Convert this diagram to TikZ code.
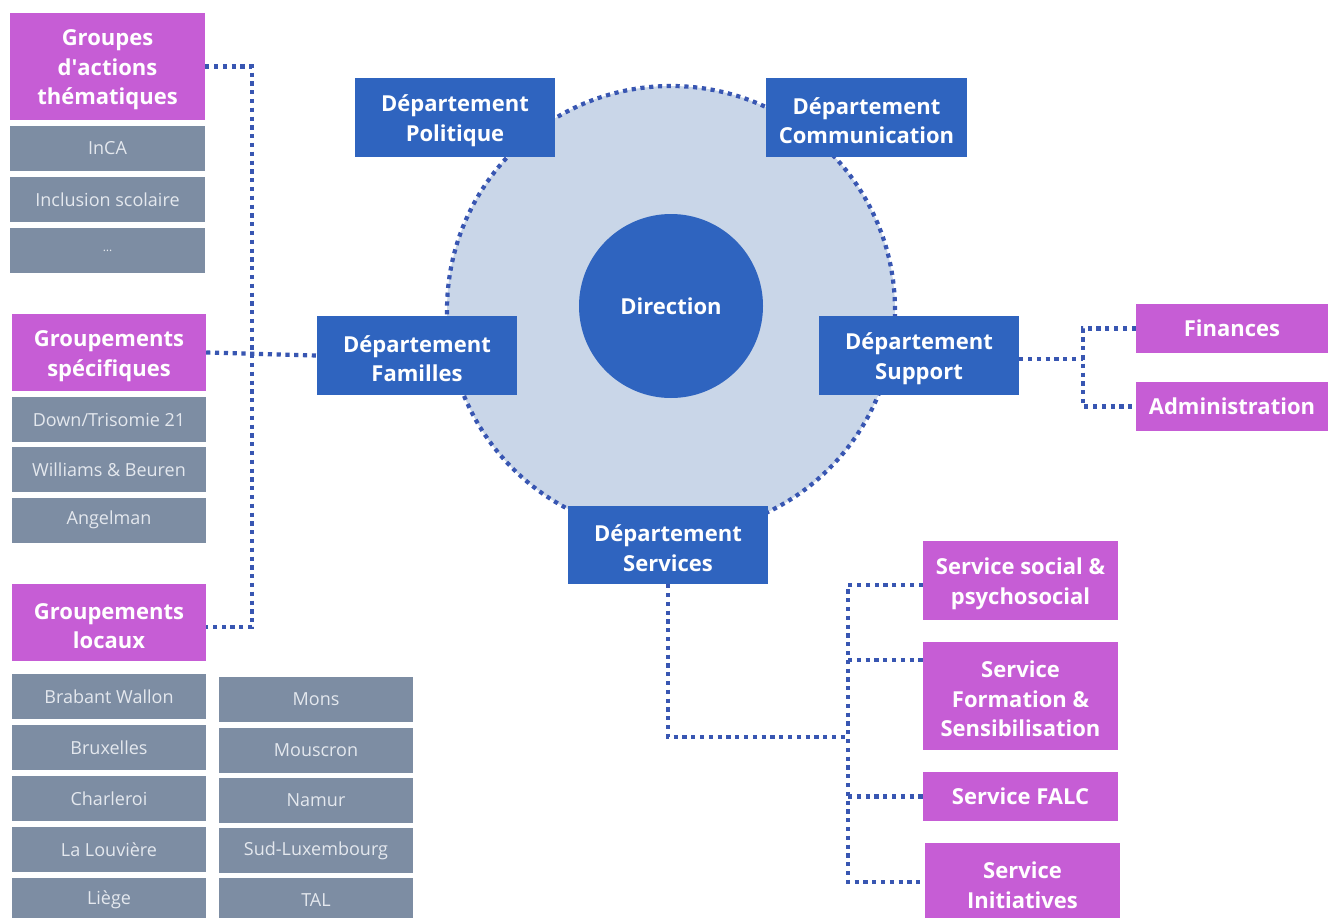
\documentclass[tikz,border=0pt]{standalone}
\usepackage{fontspec}
\setmainfont{Open Sans}
\definecolor{deptblue}{HTML}{2F64BF}
\definecolor{pinkbox}{HTML}{C65DD5}
\definecolor{greybox}{HTML}{7D8DA3}
\definecolor{circfill}{HTML}{C9D6E8}
\definecolor{dotblue}{HTML}{3856B2}
\definecolor{greytext}{HTML}{E4E8EE}
\newcommand{\mystrut}{\rule{0pt}{23pt}}
\begin{document}
\begin{tikzpicture}[x=1pt,y=-1pt,
  box/.style={rectangle, inner sep=0pt, align=center, text=white},
  bigtext/.style={font=\bfseries\fontsize{22}{29.5}\selectfont},
  dept/.style={box, bigtext, fill=deptblue, minimum width=200pt, minimum height=79pt},
  pinkb/.style={box, bigtext, fill=pinkbox, minimum width=195pt},
  greyb/.style={box, fill=greybox, text=greytext, minimum width=195pt, minimum height=45pt, font=\fontsize{18}{20}\selectfont},
  dotline/.style={draw=dotblue, line width=4.2pt, dash pattern=on 4.2pt off 4.6pt},
]
\useasboundingbox[fill=white] (0,0) rectangle (1328,918);

% central circle
\draw[dotline, fill=circfill] (671,310) circle (224pt);
\node[circle, fill=deptblue, minimum size=184pt, inner sep=0pt, text=white, bigtext] (dir) at (671,306) {Direction};

% departments
\node[dept] (pol) at (455,117.5) {\mystrut Département\\Politique};
\node[dept, minimum width=201pt] (com) at (866.5,117.5) {\mystrut Département\\Communication};
\node[dept] (fam) at (417,355.5) {\mystrut Département\\Familles};
\node[dept] (sup) at (919,355.5) {\mystrut Département\\Support};
\node[dept, minimum height=78pt] (ser) at (668,545) {\mystrut Département\\Services};

% left column
\node[pinkb, minimum height=107pt] (gat) at (107.5,66.5) {\mystrut Groupes\\d\textquotesingle actions\\thématiques};
\node[greyb] (inca) at (107.5,148.5) {InCA};
\node[greyb] (incl) at (107.5,199.5) {Inclusion scolaire};
\node[greyb] (etc) at (107.5,250.5) {\fontsize{12}{14}\selectfont\ldots};

\node[pinkb, minimum width=194pt, minimum height=77pt] (gsp) at (109,352.5) {\mystrut Groupements\\spécifiques};
\node[greyb, minimum width=194pt] (down) at (109,419.5) {Down/Trisomie 21};
\node[greyb, minimum width=194pt] (will) at (109,469.5) {Williams \& Beuren};
\node[greyb, minimum width=194pt] (ang) at (109,520) {Angelman};

\node[pinkb, minimum width=194pt, minimum height=77pt] (gloc) at (109,622.5) {\mystrut Groupements\\locaux};
\node[greyb, minimum width=194pt] (bra) at (109,696.5) {Brabant Wallon};
\node[greyb, minimum width=194pt] (bru) at (109,747.5) {Bruxelles};
\node[greyb, minimum width=194pt] (cha) at (109,798.5) {Charleroi};
\node[greyb, minimum width=194pt] (lal) at (109,849.5) {La Louvière};
\node[greyb, minimum width=194pt] (lie) at (109,900) {Liège};
\node[greyb, minimum width=194pt] (mons) at (316,699.5) {Mons};
\node[greyb, minimum width=194pt] (mous) at (316,750.5) {Mouscron};
\node[greyb, minimum width=194pt] (nam) at (316,800.5) {Namur};
\node[greyb, minimum width=194pt] (sud) at (316,850.5) {Sud-Luxembourg};
\node[greyb, minimum width=194pt] (tal) at (316,900.5) {TAL};

% support children
\node[pinkb, minimum width=192pt, minimum height=49pt] (fin) at (1232,328.5) {Finances};
\node[pinkb, minimum width=192pt, minimum height=49pt] (adm) at (1232,406.5) {Administration};

% services children
\node[pinkb, minimum height=79pt] (soc) at (1020.5,580.5) {\mystrut Service social \&\\psychosocial};
\node[pinkb, minimum height=108pt] (form) at (1020.5,696) {\mystrut Service\\Formation \&\\Sensibilisation};
\node[pinkb, minimum height=49pt] (falc) at (1020.5,796.5) {Service FALC};
\node[pinkb, minimum height=78pt] (init) at (1022.5,882) {\mystrut Service\\Initiatives};

% left connectors
\coordinate (t1) at (252,66.5);
\coordinate (t2) at (252,627);
\draw[dotline] (gat.east) -- (t1) -- (t2) -- (gloc.east |- t2);
\draw[dotline] (gsp.east) -- (fam.west);

% support connectors
\coordinate (sj) at (1083,359);
\draw[dotline] (sup.east |- sj) -- (sj);
\draw[dotline] (fin.west) -| (sj) |- (adm.west);

% services connectors
\coordinate (s1) at (668,737);
\coordinate (s2) at (848,737);
\draw[dotline] (ser.south) -- (s1) -- (s2);
\draw[dotline] (soc.west |- 0,585) -| (s2) |- (init.west |- 0,882);
\draw[dotline] (s2 |- 0,660) -- (form.west |- 0,660);
\draw[dotline] (s2 |- falc.west) -- (falc.west);
\end{tikzpicture}
\end{document}
